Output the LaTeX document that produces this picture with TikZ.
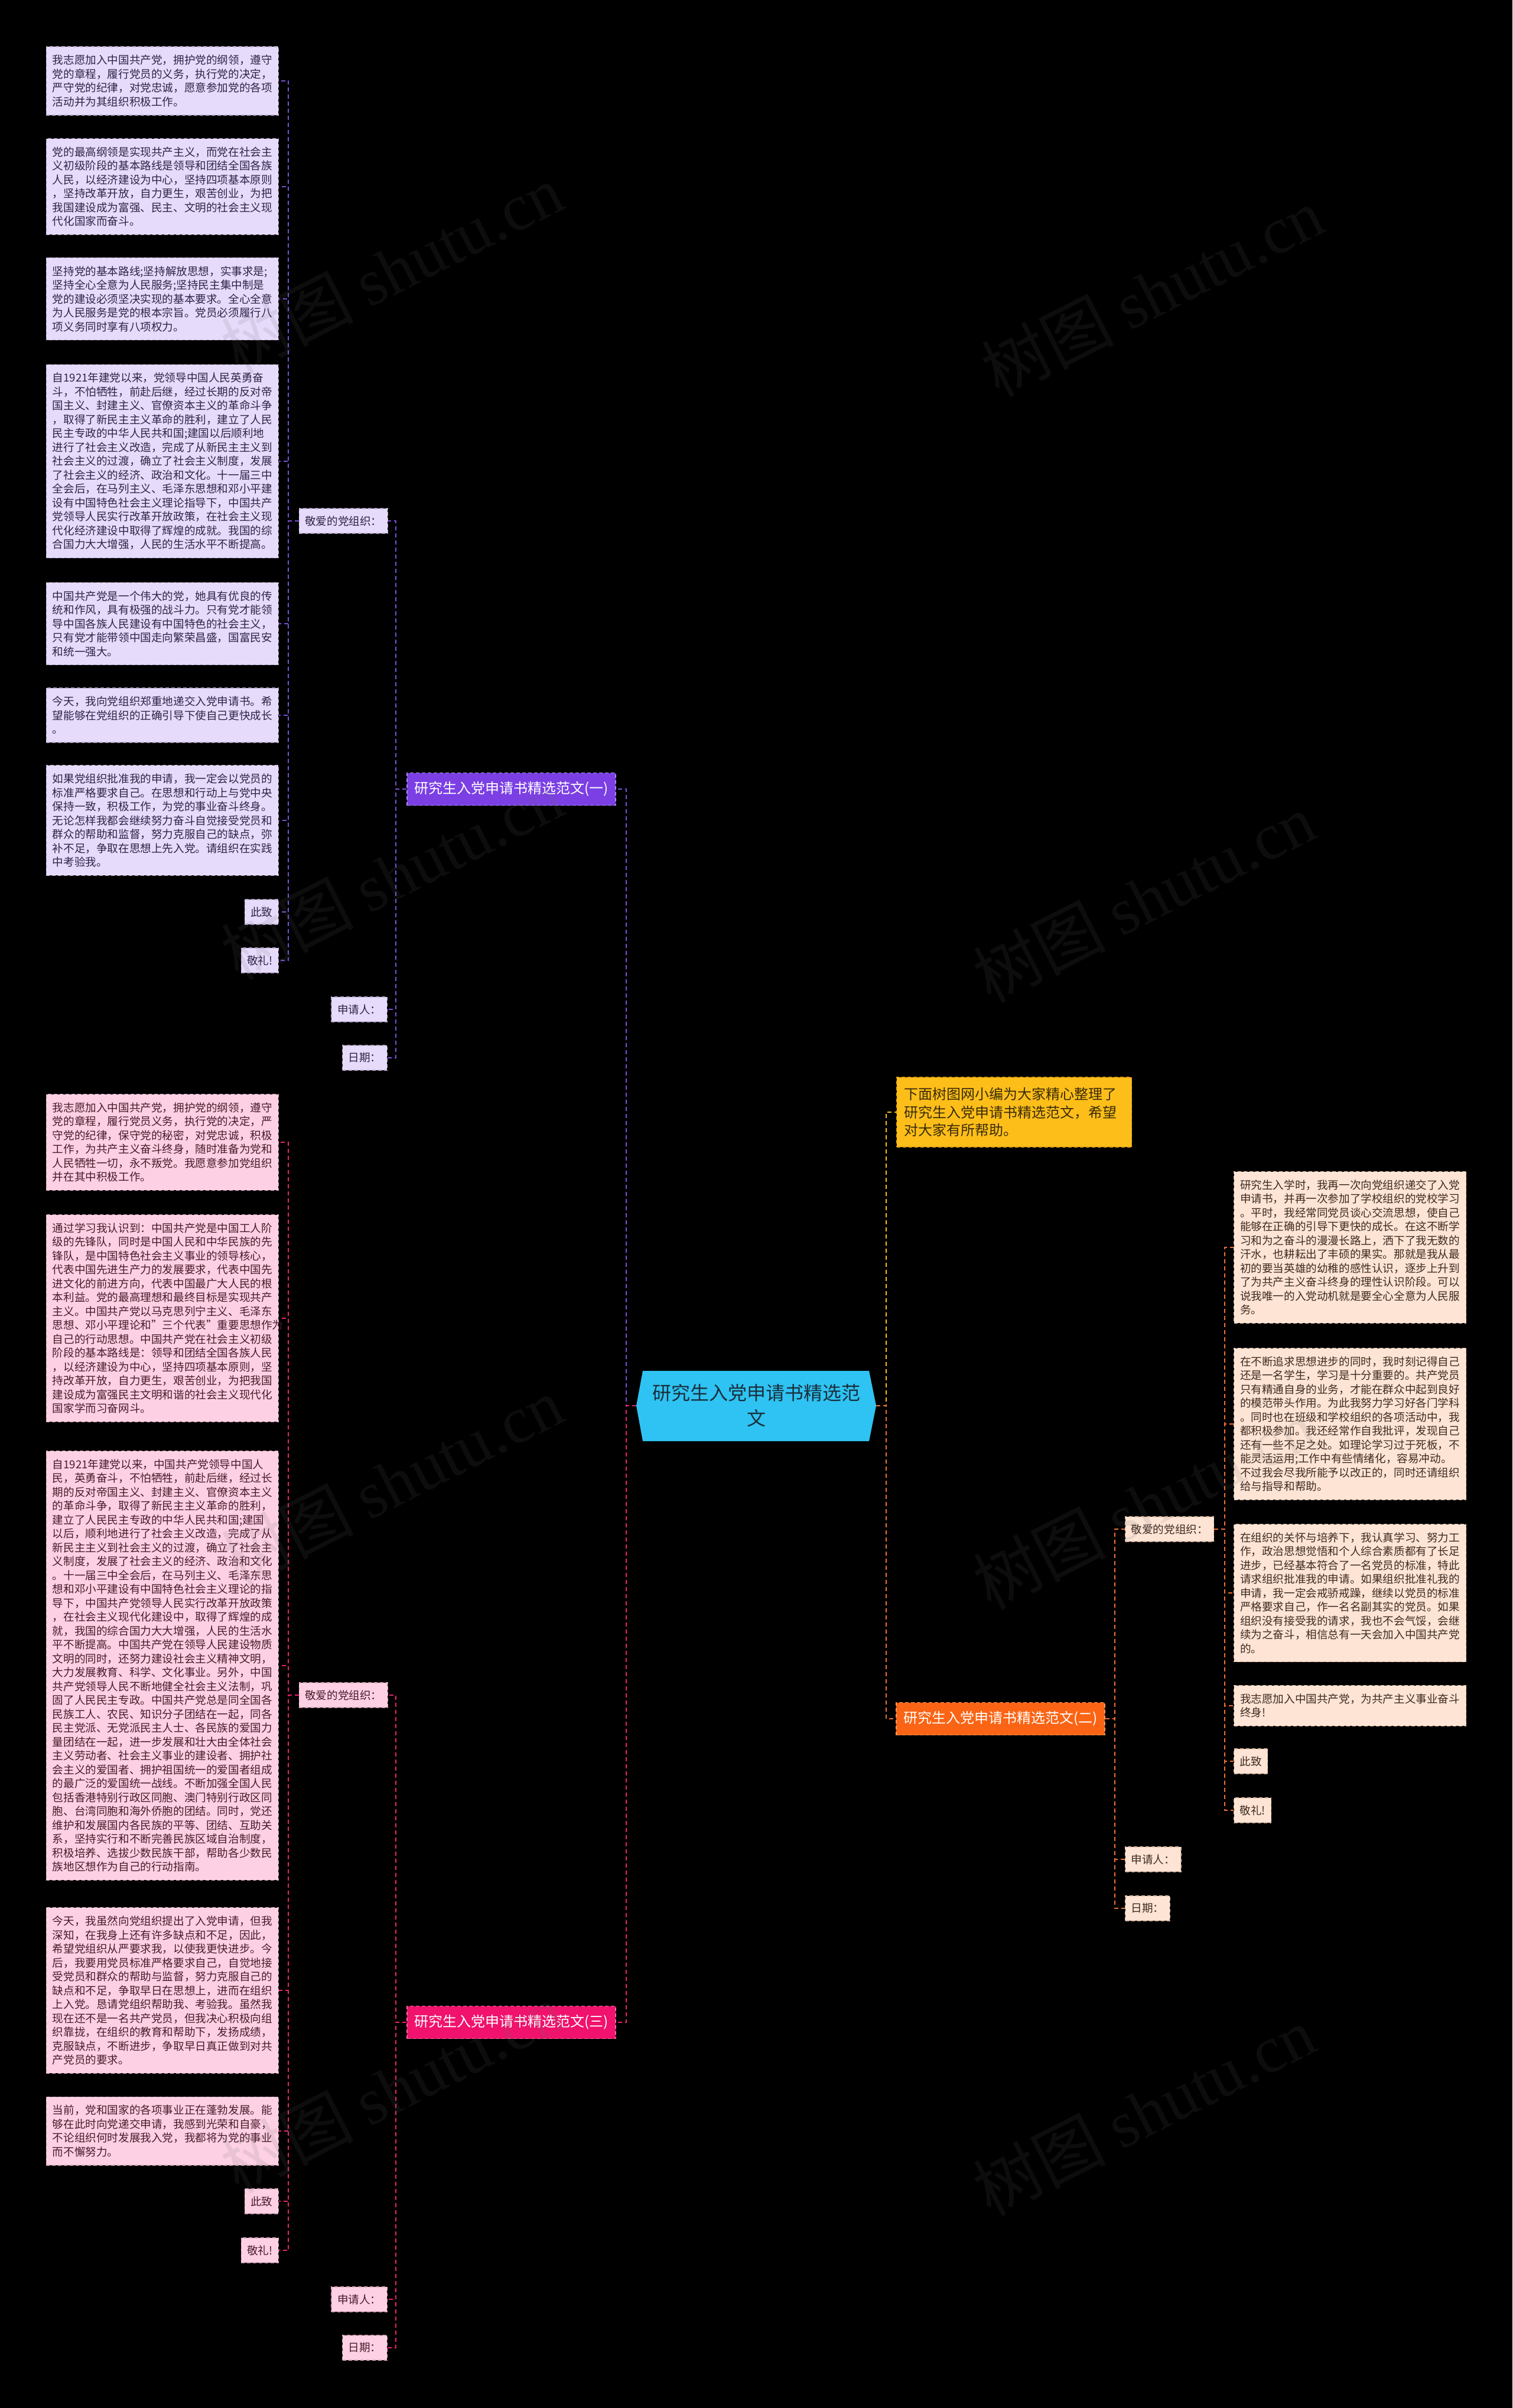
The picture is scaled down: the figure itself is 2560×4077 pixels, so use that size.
\documentclass[tikz,border=0pt]{standalone}
\usepackage{fontspec}
\setmainfont{Noto Sans CJK SC}
\newfontfamily\wmfont{Liberation Serif}
\definecolor{rootblue}{HTML}{2EC3F2}
\definecolor{roottext}{HTML}{1A2E3C}
\definecolor{purp}{HTML}{7B3FE4}
\definecolor{purpedge}{HTML}{A98BEA}
\definecolor{purpleaf}{HTML}{E7DBFB}
\definecolor{purpbord}{HTML}{B4A8C8}
\definecolor{purpline}{HTML}{7A4FDC}
\definecolor{purptext}{HTML}{2E2448}
\definecolor{pinkn}{HTML}{F0126C}
\definecolor{pinkedge}{HTML}{F46A9E}
\definecolor{pinkleaf}{HTML}{FDD1E3}
\definecolor{pinkbord}{HTML}{D4A4B8}
\definecolor{pinkline}{HTML}{E8246E}
\definecolor{pinktext}{HTML}{4A1A2C}
\definecolor{orng}{HTML}{FA6414}
\definecolor{orngedge}{HTML}{FC9A60}
\definecolor{orngleaf}{HTML}{FDE4D5}
\definecolor{orngbord}{HTML}{D8B8A4}
\definecolor{ornglink}{HTML}{F07030}
\definecolor{orngtext}{HTML}{3E2A20}
\definecolor{yell}{HTML}{FDBE1A}
\definecolor{yelledge}{HTML}{E0A010}
\definecolor{yelltext}{HTML}{3A2C08}
\definecolor{wmgray}{HTML}{6A6A6A}

\begin{document}
\begin{tikzpicture}[x=0.5pt,y=-0.5pt,
    base/.style={font=\fontsize{9.3}{11.75}\selectfont, inner xsep=5.25pt, inner ysep=7pt,
      line width=0.6pt, dash pattern=on 3pt off 2pt},
    boxl/.style={base, text width=186pt, align=left, anchor=east},
    boxr/.style={base, text width=186pt, align=left, anchor=west},
    labl/.style={base, inner xsep=5pt, inner ysep=0pt, minimum height=21pt, anchor=east},
    labr/.style={base, inner xsep=5pt, inner ysep=0pt, minimum height=21pt, anchor=west},
    purpc/.style={fill=purpleaf, draw=purpbord, text=purptext},
    pinkc/.style={fill=pinkleaf, draw=pinkbord, text=pinktext},
    orngc/.style={fill=orngleaf, draw=orngbord, text=orngtext},
    hub/.style={font=\fontsize{12}{14}\selectfont, text=white, minimum width=176.5pt,
      minimum height=27.5pt, inner sep=0pt, line width=0.7pt, dash pattern=on 3pt off 2pt},
    link/.style={line width=1pt, dash pattern=on 3.5pt off 2.5pt},
    wmark/.style={font=\fontsize{56}{60}\selectfont, text=wmgray, opacity=0.13, rotate=27}]

  \fill[black] (0,0) rectangle (2560,4077);
  \useasboundingbox (0,0) rectangle (2560,4077);

  % centre
  \fill[rootblue] (1077,2380) -- (1088,2321) -- (1471,2321) -- (1483,2380) -- (1471,2440) -- (1088,2440) -- cycle;
  \node[font=\fontsize{16}{21.5}\selectfont, text=roottext, align=center, minimum width=203pt,
    minimum height=59.5pt, inner sep=0pt] (root) at (1280,2380) {研究生入党申请书精选范\\文};

  % first sample
  \node[hub, fill=purp, draw=purpedge] (p) at (865.5,1336) {研究生入党申请书精选范文(一)};
  \node[labl, purpc] (pdear) at (657,882) {敬爱的党组织：};
  \node[labl, purpc] (papp) at (656,1709) {申请人：};
  \node[labl, purpc] (pdate) at (656,1791) {日期：};
  \node[boxl, purpc] (p1) at (472,137) {我志愿加入中国共产党，拥护党的纲领，遵守\\党的章程，履行党员的义务，执行党的决定，\\严守党的纪律，对党忠诚，愿意参加党的各项\\活动并为其组织积极工作。};
  \node[boxl, purpc] (p2) at (472,316) {党的最高纲领是实现共产主义，而党在社会主\\义初级阶段的基本路线是领导和团结全国各族\\人民，以经济建设为中心，坚持四项基本原则\\，坚持改革开放，自力更生，艰苦创业，为把\\我国建设成为富强、民主、文明的社会主义现\\代化国家而奋斗。};
  \node[boxl, purpc] (p3) at (472,506) {坚持党的基本路线;坚持解放思想，实事求是;\\坚持全心全意为人民服务;坚持民主集中制是\\党的建设必须坚决实现的基本要求。全心全意\\为人民服务是党的根本宗旨。党员必须履行八\\项义务同时享有八项权力。};
  \node[boxl, purpc] (p4) at (472,781) {自1921年建党以来，党领导中国人民英勇奋\\斗，不怕牺牲，前赴后继，经过长期的反对帝\\国主义、封建主义、官僚资本主义的革命斗争\\，取得了新民主主义革命的胜利，建立了人民\\民主专政的中华人民共和国;建国以后顺利地\\进行了社会主义改造，完成了从新民主主义到\\社会主义的过渡，确立了社会主义制度，发展\\了社会主义的经济、政治和文化。十一届三中\\全会后，在马列主义、毛泽东思想和邓小平建\\设有中国特色社会主义理论指导下，中国共产\\党领导人民实行改革开放政策，在社会主义现\\代化经济建设中取得了辉煌的成就。我国的综\\合国力大大增强，人民的生活水平不断提高。};
  \node[boxl, purpc] (p5) at (472,1056) {中国共产党是一个伟大的党，她具有优良的传\\统和作风，具有极强的战斗力。只有党才能领\\导中国各族人民建设有中国特色的社会主义，\\只有党才能带领中国走向繁荣昌盛，国富民安\\和统一强大。};
  \node[boxl, purpc] (p6) at (472,1211) {今天，我向党组织郑重地递交入党申请书。希\\望能够在党组织的正确引导下使自己更快成长\\。};
  \node[boxl, purpc] (p7) at (472,1389) {如果党组织批准我的申请，我一定会以党员的\\标准严格要求自己。在思想和行动上与党中央\\保持一致，积极工作，为党的事业奋斗终身。\\无论怎样我都会继续努力奋斗自觉接受党员和\\群众的帮助和监督，努力克服自己的缺点，弥\\补不足，争取在思想上先入党。请组织在实践\\中考验我。};
  \node[labl, purpc] (pcz) at (472,1544) {此致};
  \node[labl, purpc] (pjl) at (472,1626) {敬礼!};

  \draw[link, purpline] (root.west) -- ++(-17,0) |- (p.east);
  \foreach \n in {pdear,papp,pdate}
    \draw[link, purpline] (p.west) -- ++(-18,0) |- (\n.east);
  \foreach \n in {p1,p2,p3,p4,p5,p6,p7,pcz,pjl}
    \draw[link, purpline] (pdear.west) -- ++(-17.5,0) |- (\n.east);

  % third sample
  \node[hub, fill=pinkn, draw=pinkedge] (k) at (865.5,3424) {研究生入党申请书精选范文(三)};
  \node[labl, pinkc] (kdear) at (657,2870) {敬爱的党组织：};
  \node[labl, pinkc] (kapp) at (656,3893) {申请人：};
  \node[labl, pinkc] (kdate) at (656,3975) {日期：};
  \node[boxl, pinkc] (k1) at (472,1934) {我志愿加入中国共产党，拥护党的纲领，遵守\\党的章程，履行党员义务，执行党的决定，严\\守党的纪律，保守党的秘密，对党忠诚，积极\\工作，为共产主义奋斗终身，随时准备为党和\\人民牺牲一切，永不叛党。我愿意参加党组织\\并在其中积极工作。};
  \node[boxl, pinkc] (k2) at (472,2232) {通过学习我认识到：中国共产党是中国工人阶\\级的先锋队，同时是中国人民和中华民族的先\\锋队，是中国特色社会主义事业的领导核心，\\代表中国先进生产力的发展要求，代表中国先\\进文化的前进方向，代表中国最广大人民的根\\本利益。党的最高理想和最终目标是实现共产\\主义。中国共产党以马克思列宁主义、毛泽东\\思想、邓小平理论和"三个代表"重要思想作为\\自己的行动思想。中国共产党在社会主义初级\\阶段的基本路线是：领导和团结全国各族人民\\，以经济建设为中心，坚持四项基本原则，坚\\持改革开放，自力更生，艰苦创业，为把我国\\建设成为富强民主文明和谐的社会主义现代化\\国家学而习奋网斗。};
  \node[boxl, pinkc] (k3) at (472,2820) {自1921年建党以来，中国共产党领导中国人\\民，英勇奋斗，不怕牺牲，前赴后继，经过长\\期的反对帝国主义、封建主义、官僚资本主义\\的革命斗争，取得了新民主主义革命的胜利，\\建立了人民民主专政的中华人民共和国;建国\\以后，顺利地进行了社会主义改造，完成了从\\新民主主义到社会主义的过渡，确立了社会主\\义制度，发展了社会主义的经济、政治和文化\\。十一届三中全会后，在马列主义、毛泽东思\\想和邓小平建设有中国特色社会主义理论的指\\导下，中国共产党领导人民实行改革开放政策\\，在社会主义现代化建设中，取得了辉煌的成\\就，我国的综合国力大大增强，人民的生活水\\平不断提高。中国共产党在领导人民建设物质\\文明的同时，还努力建设社会主义精神文明，\\大力发展教育、科学、文化事业。另外，中国\\共产党领导人民不断地健全社会主义法制，巩\\固了人民民主专政。中国共产党总是同全国各\\民族工人、农民、知识分子团结在一起，同各\\民主党派、无党派民主人士、各民族的爱国力\\量团结在一起，进一步发展和壮大由全体社会\\主义劳动者、社会主义事业的建设者、拥护社\\会主义的爱国者、拥护祖国统一的爱国者组成\\的最广泛的爱国统一战线。不断加强全国人民\\包括香港特别行政区同胞、澳门特别行政区同\\胞、台湾同胞和海外侨胞的团结。同时，党还\\维护和发展国内各民族的平等、团结、互助关\\系，坚持实行和不断完善民族区域自治制度，\\积极培养、选拔少数民族干部，帮助各少数民\\族地区想作为自己的行动指南。};
  \node[boxl, pinkc] (k4) at (472,3370) {今天，我虽然向党组织提出了入党申请，但我\\深知，在我身上还有许多缺点和不足，因此，\\希望党组织从严要求我，以使我更快进步。今\\后，我要用党员标准严格要求自己，自觉地接\\受党员和群众的帮助与监督，努力克服自己的\\缺点和不足，争取早日在思想上，进而在组织\\上入党。恳请党组织帮助我、考验我。虽然我\\现在还不是一名共产党员，但我决心积极向组\\织靠拢，在组织的教育和帮助下，发扬成绩，\\克服缺点，不断进步，争取早日真正做到对共\\产党员的要求。};
  \node[boxl, pinkc] (k5) at (472,3608) {当前，党和国家的各项事业正在蓬勃发展。能\\够在此时向党递交申请，我感到光荣和自豪，\\不论组织何时发展我入党，我都将为党的事业\\而不懈努力。};
  \node[labl, pinkc] (kcz) at (472,3727) {此致};
  \node[labl, pinkc] (kjl) at (472,3810) {敬礼!};

  \draw[link, pinkline] (root.west) -- ++(-17,0) |- (k.east);
  \foreach \n in {kdear,kapp,kdate}
    \draw[link, pinkline] (k.west) -- ++(-18,0) |- (\n.east);
  \foreach \n in {k1,k2,k3,k4,k5,kcz,kjl}
    \draw[link, pinkline] (kdear.west) -- ++(-17.5,0) |- (\n.east);

  % intro and second sample
  \node[anchor=west, fill=yell, draw=yelledge, text=yelltext, font=\fontsize{12}{15.35}\selectfont,
    text width=186pt, align=left, inner xsep=6.5pt, inner ysep=8.6pt, line width=0.6pt,
    dash pattern=on 3pt off 2pt] (intro) at (1517,1883) {下面树图网小编为大家精心整理了\\研究生入党申请书精选范文，希望\\对大家有所帮助。};
  \node[hub, fill=orng, draw=orngedge] (o) at (1693.5,2910) {研究生入党申请书精选范文(二)};
  \node[labr, orngc] (odear) at (1904,2589) {敬爱的党组织：};
  \node[labr, orngc] (oapp) at (1904,3148) {申请人：};
  \node[labr, orngc] (odate) at (1904,3231) {日期：};
  \node[boxr, orngc] (o1) at (2088,2112) {研究生入学时，我再一次向党组织递交了入党\\申请书，并再一次参加了学校组织的党校学习\\。平时，我经常同党员谈心交流思想，使自己\\能够在正确的引导下更快的成长。在这不断学\\习和为之奋斗的漫漫长路上，洒下了我无数的\\汗水，也耕耘出了丰硕的果实。那就是我从最\\初的要当英雄的幼稚的感性认识，逐步上升到\\了为共产主义奋斗终身的理性认识阶段。可以\\说我唯一的入党动机就是要全心全意为人民服\\务。};
  \node[boxr, orngc] (o2) at (2088,2411) {在不断追求思想进步的同时，我时刻记得自己\\还是一名学生，学习是十分重要的。共产党员\\只有精通自身的业务，才能在群众中起到良好\\的模范带头作用。为此我努力学习好各门学科\\。同时也在班级和学校组织的各项活动中，我\\都积极参加。我还经常作自我批评，发现自己\\还有一些不足之处。如理论学习过于死板，不\\能灵活运用;工作中有些情绪化，容易冲动。\\不过我会尽我所能予以改正的，同时还请组织\\给与指导和帮助。};
  \node[boxr, orngc] (o3) at (2088,2697) {在组织的关怀与培养下，我认真学习、努力工\\作，政治思想觉悟和个人综合素质都有了长足\\进步，已经基本符合了一名党员的标准，特此\\请求组织批准我的申请。如果组织批准礼我的\\申请，我一定会戒骄戒躁，继续以党员的标准\\严格要求自己，作一名名副其实的党员。如果\\组织没有接受我的请求，我也不会气馁，会继\\续为之奋斗，相信总有一天会加入中国共产党\\的。};
  \node[boxr, orngc] (o4) at (2088,2888) {我志愿加入中国共产党，为共产主义事业奋斗\\终身!};
  \node[labr, orngc] (ocz) at (2088,2982) {此致};
  \node[labr, orngc] (ojl) at (2088,3065) {敬礼!};

  \draw[link, yell] (root.east) -- ++(17,0) |- (intro.west);
  \draw[link, ornglink] (root.east) -- ++(17,0) |- (o.west);
  \foreach \n in {odear,oapp,odate}
    \draw[link, ornglink] (o.east) -- ++(16,0) |- (\n.west);
  \foreach \n in {o1,o2,o3,o4,ocz,ojl}
    \draw[link, ornglink] (odear.east) -- ++(18,0) |- (\n.west);

  % watermark
  \foreach \wx/\wy [count=\i] in {663/455,1950/494,663/1481,1936/1520,663/2508,1936/2547,663/3535,1936/3574}
    \node[wmark] (wm\i) at (\wx,\wy) {树图 {\wmfont shutu.cn}};
\end{tikzpicture}
\end{document}
